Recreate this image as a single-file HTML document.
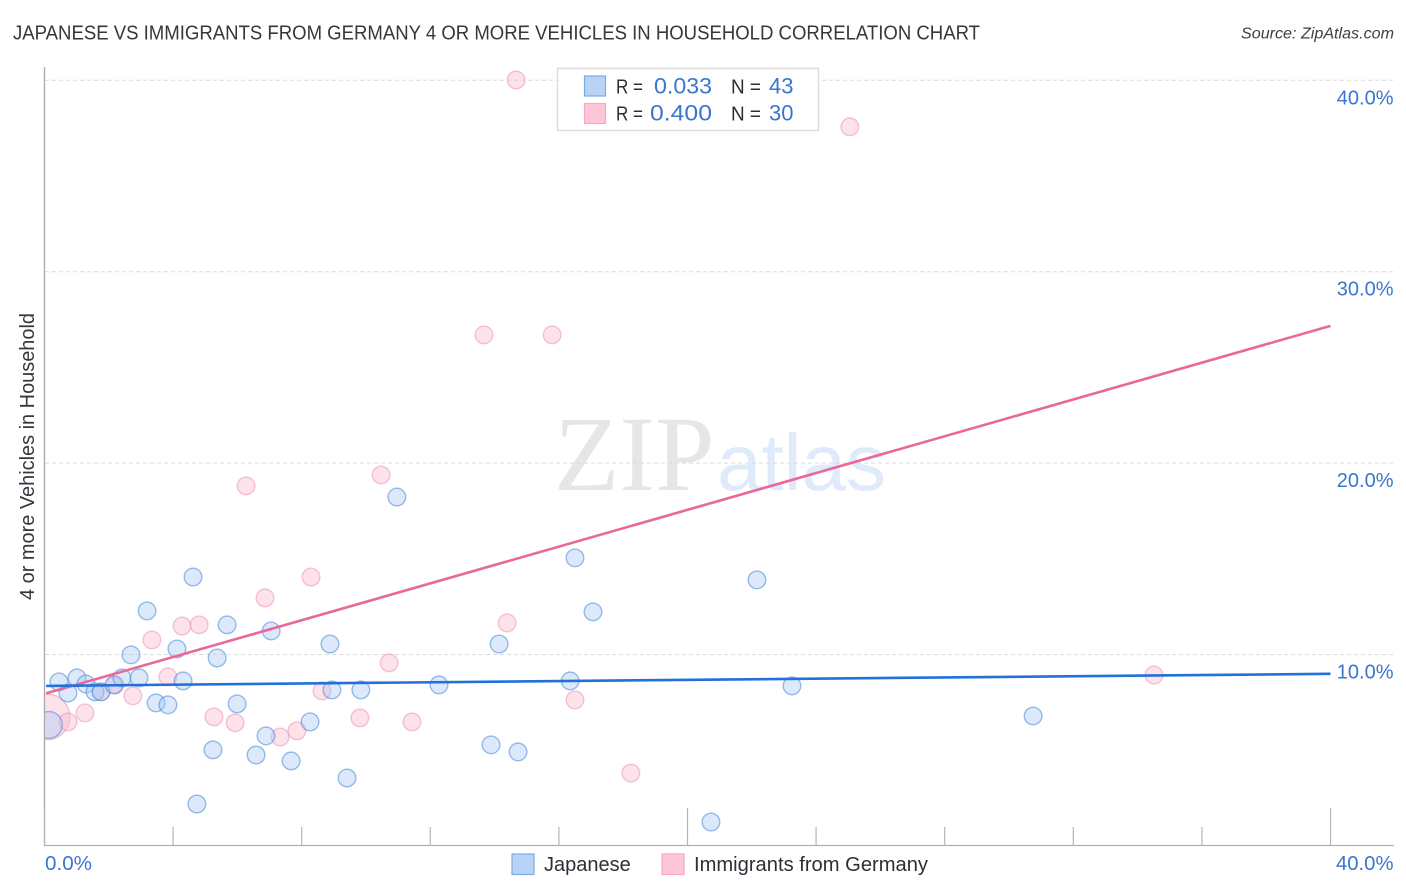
<!DOCTYPE html>
<html lang="en">
<head>
<meta charset="utf-8">
<title>Japanese vs Immigrants from Germany correlation chart</title>
<style>
html,body{margin:0;padding:0;background:#fff;}
svg{display:block;font-family:"Liberation Sans",sans-serif;}
</style>
</head>
<body>
<svg id="chart" width="1406" height="892" viewBox="0 0 1406 892" xmlns="http://www.w3.org/2000/svg">
  <defs><clipPath id="plot-clip"><rect x="45" y="60" width="1349" height="786"/></clipPath></defs>
  <text x="13" y="39.5" font-size="20" fill="#33373e" textLength="967" lengthAdjust="spacingAndGlyphs">JAPANESE VS IMMIGRANTS FROM GERMANY 4 OR MORE VEHICLES IN HOUSEHOLD CORRELATION CHART</text>
  <text x="1394" y="38.5" font-size="15.5" font-style="italic" fill="#3a3f46" text-anchor="end" textLength="153" lengthAdjust="spacingAndGlyphs">Source: ZipAtlas.com</text>

  <g>
    <text x="554" y="490" font-family="'Liberation Serif',serif" font-size="107" fill="#e6e6e6">ZIP</text>
    <text x="717" y="490" font-size="80" fill="#dfeafa" textLength="169" lengthAdjust="spacingAndGlyphs">atlas</text>
  </g>

  <g id="grid"></g>
  <g id="axes"></g>
  <g id="points" clip-path="url(#plot-clip)"></g>
  <g id="trends"></g>
  <g id="labels"></g>

  <text transform="translate(34 456.5) rotate(-90)" font-size="20" fill="#33373e" text-anchor="middle" textLength="287" lengthAdjust="spacingAndGlyphs">4 or more Vehicles in Household</text>

  <g>
    <rect x="557.5" y="68.5" width="261" height="62" fill="#fff" stroke="#dddddd" stroke-width="1.5"/>
    <rect x="584.5" y="76" width="21" height="20" fill="#b9d3f7" stroke="#7da9e4" stroke-width="1.2"/>
    <rect x="584.5" y="103.5" width="21" height="20" fill="#fec6d8" stroke="#f5a9c1" stroke-width="1.2"/>
    <text x="616" y="93.5" font-size="20" fill="#2b2f36" textLength="27" lengthAdjust="spacingAndGlyphs">R =</text>
    <text x="654" y="93.5" font-size="22" fill="#3a75d0" textLength="58" lengthAdjust="spacingAndGlyphs">0.033</text>
    <text x="731" y="93.5" font-size="20" fill="#2b2f36" textLength="30" lengthAdjust="spacingAndGlyphs">N =</text>
    <text x="793.5" y="93.5" font-size="22" fill="#3a75d0" text-anchor="end">43</text>
    <text x="616" y="120.5" font-size="20" fill="#2b2f36" textLength="27" lengthAdjust="spacingAndGlyphs">R =</text>
    <text x="650" y="120.5" font-size="22" fill="#3a75d0" textLength="62" lengthAdjust="spacingAndGlyphs">0.400</text>
    <text x="731" y="120.5" font-size="20" fill="#2b2f36" textLength="30" lengthAdjust="spacingAndGlyphs">N =</text>
    <text x="793.5" y="120.5" font-size="22" fill="#3a75d0" text-anchor="end">30</text>
  </g>

  <g>
    <g>
      <rect x="512" y="854" width="22" height="20.5" fill="#b9d3f7" stroke="#7da9e4" stroke-width="1.2"/>
      <text x="544" y="871" font-size="20" fill="#2b2f36">Japanese</text>
    </g>
    <g>
      <rect x="662" y="854" width="22" height="20.5" fill="#fec6d8" stroke="#f5a9c1" stroke-width="1.2"/>
      <text x="694" y="871" font-size="20" fill="#2b2f36" textLength="234" lengthAdjust="spacingAndGlyphs">Immigrants from Germany</text>
    </g>
  </g>
</svg>
<script>
const japaneseX = [0.14,0.45,0.73,1.01,1.29,1.57,1.76,2.16,2.41,2.69,2.94,3.19,3.47,3.84,4.12,4.31,4.62,4.74,5.24,5.37,5.68,5.99,6.58,6.89,7.05,7.67,8.26,8.88,8.94,9.41,9.84,10.96,12.27,13.89,14.14,14.73,16.35,16.5,17.06,20.73,22.16,23.25,30.75];
const japaneseY = [6.32,8.57,7.99,8.78,8.46,8.05,8.05,8.41,8.78,9.98,8.78,12.28,7.47,7.37,10.29,8.62,14.05,2.19,5.02,9.82,11.55,7.42,4.75,5.75,11.23,4.44,6.48,10.55,8.15,3.55,8.15,18.23,8.41,5.28,10.55,4.91,8.62,15.05,12.23,1.25,13.9,8.36,6.79];
const japaneseWeight = [2.3,1,1,1,1,1,1,1,1,1,1,1,1,1,1,1,1,1,1,1,1,1,1,1,1,1,1,1,1,1,1,1,1,1,1,1,1,1,1,1,1,1,1];
const germanyX = [0.08,0.73,1.26,1.76,2.19,2.75,3.34,3.84,4.28,4.81,5.27,5.93,6.27,6.86,7.33,7.85,8.29,8.63,9.81,10.47,10.72,11.43,13.67,14.39,14.67,15.79,16.5,18.24,25.05,34.51];
const germanyY = [6.74,6.48,6.95,8.05,8.41,7.84,10.76,8.83,11.49,11.55,6.74,6.43,18.81,12.96,5.69,6.01,14.05,8.1,6.69,19.38,9.56,6.48,26.7,11.65,40.02,26.7,7.63,3.81,37.57,8.93];
const germanyWeight = [6.7,1,1,1,1,1,1,1,1,1,1,1,1,1,1,1,1,1,1,1,1,1,1,1,1,1,1,1,1,1];
const japaneseTrendX = [0.05,40];
const japaneseTrendY = [8.36,8.99];
const germanyTrendX = [0.05,40];
const germanyTrendY = [7.97,27.17];
const yTicks = [10,20,30,40];
const yTickLabels = ['10.0%','20.0%','30.0%','40.0%'];
const xTicks = [0,4,8,12,16,20,24,28,32,36,40];
const xMajorTicks = [0,20,40];
const xEndValues = [0,40];
const xEndLabels = ['0.0%','40.0%'];

const NS = 'http://www.w3.org/2000/svg';
const xScale = v => 44.5 + v * 32.15;
const yScale = v => 845.9 - v * 19.14;
const radius = w => 8.8 * Math.sqrt(w);

function make(tag, attrs, parent) {
  const el = document.createElementNS(NS, tag);
  for (const k in attrs) el.setAttribute(k, attrs[k]);
  parent.appendChild(el);
  return el;
}

const grid = document.getElementById('grid');
const axes = document.getElementById('axes');
const points = document.getElementById('points');
const trends = document.getElementById('trends');
const labels = document.getElementById('labels');

yTicks.forEach((t, i) => {
  const line = make('line', {x1: 45, x2: 1394, y1: yScale(t), y2: yScale(t), stroke: '#dcdcdc', 'stroke-width': 1, 'stroke-dasharray': '4 3'}, grid);
  
  
  const label = make('text', {x: 1393.5, y: yScale(t) + 24, 'font-size': 20, fill: '#3a75d0', 'text-anchor': 'end'}, labels);
  label.textContent = yTickLabels[i];
  
  
});

const yAxis = make('line', {x1: 44.5, x2: 44.5, y1: 67, y2: 846, stroke: '#a9a9a9', 'stroke-width': 1.3}, axes);


const xAxis = make('line', {x1: 44, x2: 1394, y1: 845.5, y2: 845.5, stroke: '#b0b0b0', 'stroke-width': 1.3}, axes);



xTicks.forEach(t => {
  const top = xMajorTicks.includes(t) ? 808 : 827;
  const tick = make('line', {x1: xScale(t), x2: xScale(t), y1: top, y2: 846, stroke: '#b5b5b5', 'stroke-width': 1.2}, axes);
  
  
});

xEndValues.forEach((t, i) => {
  const label = make('text', {x: i === 0 ? 45 : 1336, y: 870, 'font-size': 20, fill: '#3a75d0', textLength: i === 0 ? 47 : 57.5, lengthAdjust: 'spacingAndGlyphs'}, labels);
  label.textContent = xEndLabels[i];
  
  
});

germanyX.forEach((x, i) => {
  const c = make('circle', {cx: xScale(x), cy: yScale(germanyY[i]), r: radius(germanyWeight[i]), fill: 'rgba(250,185,205,0.42)', stroke: 'rgba(236,150,178,0.55)', 'stroke-width': 1.4}, points);
  
  
});
japaneseX.forEach((x, i) => {
  const c = make('circle', {cx: xScale(x), cy: yScale(japaneseY[i]), r: radius(japaneseWeight[i]), fill: 'rgba(165,200,245,0.4)', stroke: 'rgba(75,135,220,0.55)', 'stroke-width': 1.4}, points);
  
  
});

const germanyLine = make('line', {x1: xScale(germanyTrendX[0]), x2: xScale(germanyTrendX[1]), y1: yScale(germanyTrendY[0]), y2: yScale(germanyTrendY[1]), stroke: '#e8689a', 'stroke-width': 2.6}, trends);


const japaneseLine = make('line', {x1: xScale(japaneseTrendX[0]), x2: xScale(japaneseTrendX[1]), y1: yScale(japaneseTrendY[0]), y2: yScale(japaneseTrendY[1]), stroke: '#2270d8', 'stroke-width': 2.6}, trends);


</script>
</body>
</html>
